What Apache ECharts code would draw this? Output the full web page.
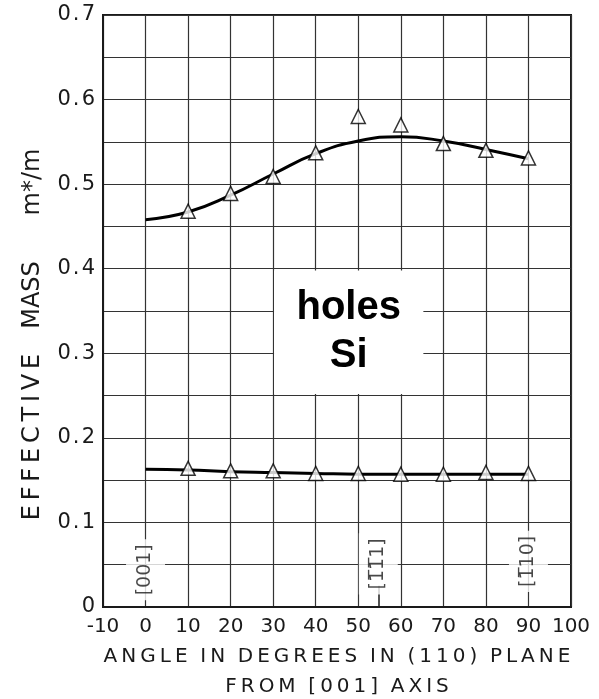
<!DOCTYPE html>
<html>
<head>
<meta charset="utf-8">
<script src="https://cdn.jsdelivr.net/npm/echarts@6/dist/echarts.min.js"></script>
<style>
html,body{margin:0;padding:0;background:#fff;}
#chart{width:599px;height:699px;}
</style>
</head>
<body>
<div id="chart"></div>
<script>
// 拟合曲线 (0..90 度)
var angles = [0, 10, 20, 30, 40, 50, 60, 70, 80, 90];
var upperCurve = [0.458, 0.467, 0.487, 0.512, 0.536, 0.551, 0.556, 0.551, 0.541, 0.530];
var lowerCurve = [0.163, 0.162, 0.160, 0.159, 0.158, 0.157, 0.157, 0.157, 0.157, 0.157];

// 测量点 (三角形)
var dotAngles = [10, 20, 30, 40, 50, 60, 70, 80, 90];
var upperDots = [0.468, 0.489, 0.509, 0.537, 0.580, 0.570, 0.548, 0.540, 0.531];
var lowerDots = [0.164, 0.161, 0.161, 0.158, 0.158, 0.157, 0.157, 0.159, 0.158];

// 晶向标注
var dirAngles = [0, 54.7, 90];
var dirText = ['[001]', '[1\u03051\u03051]', '[1\u030510]'];
var dirY = [0.044, 0.051, 0.054];

function zip(xs, ys) {
	var out = [];
	for (var i = 0; i < xs.length; i++) {
		out.push([xs[i], ys[i]]);
	}
	return out;
}

// 字母之间加细空格
function spread(s) {
	return s.split('').join('\u2009');
}

var ink = '#1a1a1a';
var gridInk = '#333';
var font = 'DejaVu Sans';

var dirData = [];
for (var i = 0; i < dirAngles.length; i++) {
	dirData.push([dirAngles[i], dirY[i], dirText[i]]);
}

var chart = echarts.init(document.getElementById('chart'));

var option = {
	backgroundColor: '#fff',
	animation: false,
	grid: {
		left: 103, right: 28, top: 15, bottom: 92,
		outerBoundsMode: 'none', containLabel: false,
		show: true, borderColor: ink, borderWidth: 2, backgroundColor: '#fff'
	},
	xAxis: {
		type: 'value', min: -10, max: 100, interval: 10,
		name: spread('ANGLE') + '  ' + spread('IN') + '  ' + spread('DEGREES') + '  ' + spread('IN') + '  ' + spread('(110)') + '  ' + spread('PLANE') + '\n' + spread('FROM') + '  ' + spread('[001]') + '  ' + spread('AXIS'),
		nameLocation: 'middle', nameGap: 35,
		nameTextStyle: {fontFamily: font, fontSize: 20, lineHeight: 30, color: ink},
		axisLine: {show: true, onZero: false, lineStyle: {color: ink, width: 2}},
		axisTick: {show: false},
		axisLabel: {fontFamily: font, fontSize: 20, color: ink, margin: 10},
		splitLine: {show: true, lineStyle: {color: gridInk, width: 1.2}}
	},
	yAxis: {
		type: 'value', min: 0, max: 0.7, interval: 0.05,
		axisLine: {show: true, onZero: false, lineStyle: {color: ink, width: 2}},
		axisTick: {show: false},
		axisLabel: {
			fontFamily: font, fontSize: 21, color: ink, margin: 8,
			formatter: function (v) {
				var n = Math.round(v * 100);
				if (n % 10 !== 0) return '';
				return n === 0 ? '0' : '0\u200a.\u200a' + (n / 10);
			}
		},
		splitLine: {show: true, lineStyle: {color: gridInk, width: 1.2}}
	},
	graphic: [
		{type: 'text', x: 33, y: 437, rotation: Math.PI / 2,
			style: {text: spread('EFFECTIVE'), fontFamily: font, fontSize: 24, fill: ink, align: 'center', verticalAlign: 'middle'}},
		{type: 'text', x: 33, y: 295, rotation: Math.PI / 2,
			style: {text: 'MASS', fontFamily: font, fontSize: 24, fill: ink, align: 'center', verticalAlign: 'middle'}},
		{type: 'text', x: 33, y: 182, rotation: Math.PI / 2,
			style: {text: 'm*/m', fontFamily: font, fontSize: 24, fill: ink, align: 'center', verticalAlign: 'middle'}}
	],
	series: [
		{
			name: 'upper', type: 'line', smooth: true, symbol: 'none',
			data: zip(angles, upperCurve),
			lineStyle: {color: '#000', width: 3},
			markArea: {
				silent: true,
				itemStyle: {color: '#fff', opacity: 1},
				label: {
					show: true, position: 'inside', formatter: 'holes\nSi',
					fontFamily: 'Liberation Sans', fontWeight: 'bold', fontSize: 40, lineHeight: 48, color: '#000'
				},
				data: [[{coord: [30.2, 0.252]}, {coord: [65.3, 0.398]}]]
			}
		},
		{
			name: 'lower', type: 'line', smooth: true, symbol: 'none',
			data: zip(angles, lowerCurve),
			lineStyle: {color: '#000', width: 3},
			markLine: {
				silent: true, symbol: 'none', label: {show: false},
				lineStyle: {color: ink, width: 1.5, type: 'solid'},
				data: [[{coord: [54.7, 0]}, {coord: [54.7, 0.025]}]]
			}
		},
		{
			name: 'upperDots', type: 'scatter', symbol: 'triangle', symbolSize: 14,
			data: zip(dotAngles, upperDots), z: 5,
			itemStyle: {color: '#fff', borderColor: '#000', borderWidth: 1.5}
		},
		{
			name: 'lowerDots', type: 'scatter', symbol: 'triangle', symbolSize: 14,
			data: zip(dotAngles, lowerDots), z: 5,
			itemStyle: {color: '#fff', borderColor: '#000', borderWidth: 1.5}
		},
		{
			name: 'dirs', type: 'scatter', symbolSize: 0, z: 6,
			data: dirData,
			label: {
				show: true, position: 'inside', rotate: 90,
				formatter: function (p) { return p.data[2]; },
				fontFamily: font, fontSize: 19, color: ink,
				backgroundColor: '#fff', padding: [10, 5, 10, 5]
			}
		}
	]
};

chart.setOption(option);
</script>
</body>
</html>
